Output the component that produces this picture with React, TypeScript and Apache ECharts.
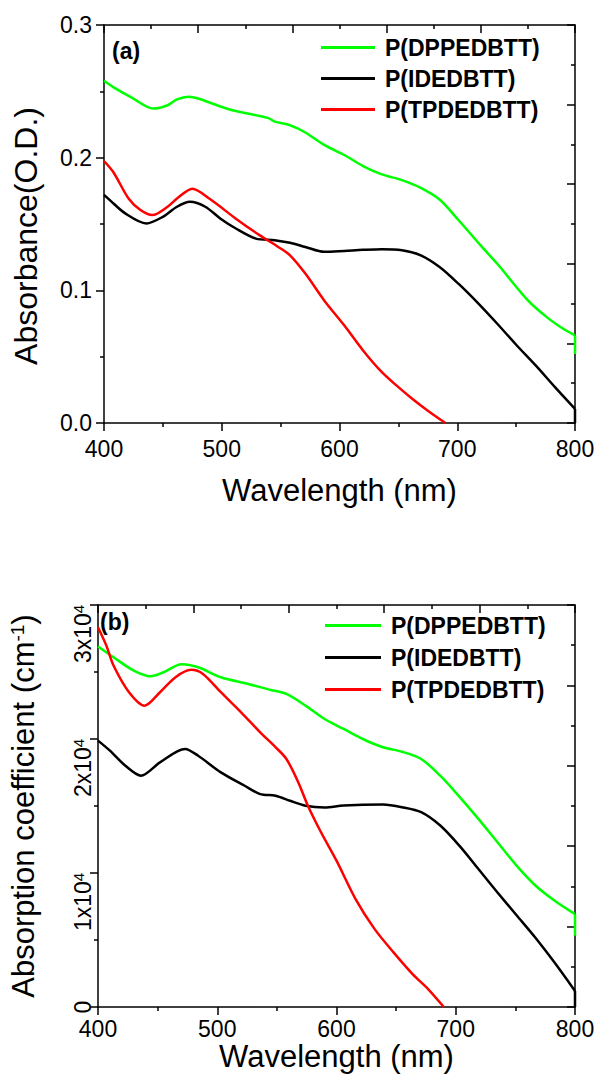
import React, { useEffect, useRef } from 'react';
import * as echarts from 'echarts';

const FONT = 'Arial, "Liberation Sans", Helvetica, sans-serif';

const seriesNames = ['P(DPPEDBTT)', 'P(IDEDBTT)', 'P(TPDEDBTT)'];
const seriesColors = ['#00ff00', '#000000', '#ff0000'];

// ---- Panel (a): absorbance (O.D.) ----
const absDppX = [400, 410, 424, 442, 454, 462, 472, 480, 506, 539, 545, 558, 571, 587, 604, 620, 636, 653, 669, 685, 701, 721, 734, 760, 776, 790, 800];
const absDppY = [0.258, 0.252, 0.245, 0.237, 0.2395, 0.244, 0.246, 0.2446, 0.2365, 0.23, 0.2272, 0.2244, 0.219, 0.2096, 0.202, 0.1937, 0.1874, 0.1831, 0.1773, 0.1685, 0.153, 0.1327, 0.12, 0.0924, 0.0798, 0.071, 0.066];

const absIdX = [400, 405, 418, 436, 450, 462, 473, 486, 499, 512, 529, 545, 558, 571, 587, 604, 620, 636, 653, 669, 685, 701, 718, 734, 750, 767, 783, 800];
const absIdY = [0.172, 0.168, 0.158, 0.1504, 0.1554, 0.163, 0.1667, 0.163, 0.154, 0.1466, 0.139, 0.1378, 0.1358, 0.1327, 0.129, 0.1297, 0.1305, 0.131, 0.1302, 0.1264, 0.1176, 0.105, 0.09, 0.0748, 0.059, 0.043, 0.027, 0.0106];

const absTpX = [400, 408, 421, 431, 441, 454, 463, 475, 490, 512, 532, 548, 558, 571, 587, 604, 620, 636, 650, 662, 675, 690];
const absTpY = [0.1975, 0.189, 0.169, 0.1605, 0.1567, 0.163, 0.17, 0.1766, 0.1688, 0.154, 0.1416, 0.1327, 0.1264, 0.1126, 0.0924, 0.0736, 0.0547, 0.0383, 0.027, 0.0181, 0.0093, 0.0];

// vertical drops at the 800 nm end of the traces
const dropX = [800, 800];
const absDppDrop = [0.066, 0.052];
const absIdDrop = [0.0106, 0.0];

// ---- Panel (b): absorption coefficient (cm^-1) ----
const coefDppX = [400, 413, 430, 444, 455, 470, 484, 503, 526, 545, 558, 574, 590, 606, 622, 639, 655, 671, 687, 703, 719, 735, 751, 767, 783, 800];
const coefDppY = [26900, 26100, 25100, 24680, 24980, 25580, 25350, 24610, 24110, 23660, 23360, 22490, 21490, 20750, 20000, 19380, 19050, 18510, 17260, 15700, 14040, 12290, 10550, 9050, 7930, 6930];

const coefIdX = [400, 410, 423, 436, 452, 473, 484, 503, 523, 536, 549, 561, 574, 590, 606, 639, 655, 671, 687, 703, 719, 735, 751, 767, 783, 800];
const coefIdY = [19880, 19130, 18000, 17260, 18260, 19250, 18750, 17510, 16510, 15890, 15770, 15390, 15020, 14890, 15040, 15110, 14910, 14540, 13540, 12040, 10300, 8550, 6850, 5150, 3300, 1200];

const coefTpX = [400, 407, 413, 426, 439, 452, 465, 478, 488, 503, 520, 536, 549, 558, 568, 576, 587, 600, 616, 632, 648, 664, 677, 690];
const coefTpY = [28340, 26970, 25480, 23490, 22490, 23490, 24610, 25160, 24860, 23490, 21990, 20500, 19380, 18510, 16760, 15020, 13040, 10920, 8050, 5810, 4060, 2440, 1320, 0];

const coefDppDrop = [6930, 5310];
const coefIdDrop = [1200, 0];

// tick label values
const absTicks = { min: 0, max: 0.3, interval: 0.1 };
const coefTicks = { min: 0, max: 30000, interval: 10000 };

const zip = (xs: number[], ys: number[]) => xs.map((x, i) => [x, ys[i]]);

const black = '#000';
const lineSt = { color: black, width: 1.5 };
const TICK_FS = 23;
const TITLE_FS = 31;

function bottomX(gridIndex: number, margin: number, nameGap: number) {
  return {
    type: 'value', gridIndex, position: 'bottom', min: 400, max: 800, interval: 100,
    axisLine: { show: true, onZero: false, lineStyle: lineSt },
    axisTick: { show: true, inside: false, length: 8, lineStyle: lineSt },
    minorTick: { show: true, splitNumber: 2, length: 4, lineStyle: lineSt },
    splitLine: { show: false },
    axisLabel: { fontSize: TICK_FS, color: black, fontFamily: FONT, margin },
    name: 'Wavelength (nm)', nameLocation: 'middle', nameGap,
    nameTextStyle: { fontSize: TITLE_FS, color: black, fontFamily: FONT },
  };
}

function topX(gridIndex: number) {
  return {
    type: 'value', gridIndex, position: 'top', min: 400, max: 800, interval: 80,
    axisLine: { show: true, onZero: false, lineStyle: lineSt },
    axisTick: { show: true, inside: true, length: 8, lineStyle: lineSt },
    minorTick: { show: true, splitNumber: 2, length: 4, lineStyle: lineSt },
    splitLine: { show: false },
    axisLabel: { show: false },
  };
}

function rightY(gridIndex: number, max: number, interval: number) {
  return {
    type: 'value', gridIndex, position: 'right', min: 0, max, interval,
    axisLine: { show: true, onZero: false, lineStyle: lineSt },
    axisTick: { show: true, inside: true, length: 8, lineStyle: lineSt },
    minorTick: { show: true, splitNumber: 2, length: 4, lineStyle: lineSt },
    splitLine: { show: false },
    axisLabel: { show: false },
  };
}

function lineSeries(name: string | undefined, color: string, data: number[][], xi: number, yi: number, smooth: number | false = 0.3) {
  return {
    type: 'line', name, xAxisIndex: xi, yAxisIndex: yi, data,
    smooth, symbol: 'none', showSymbol: false,
    lineStyle: { color, width: 2.5 }, itemStyle: { color },
  };
}

function legendAt(left: number, top: number, itemWidth: number, itemGap: number) {
  return {
    data: seriesNames, orient: 'vertical', left, top, itemWidth, itemHeight: 3,
    icon: 'rect', itemGap, padding: 0, selectedMode: false,
    textStyle: { fontSize: 23, fontWeight: 'bold', color: black, fontFamily: FONT, padding: [0, 0, 0, 5] },
  };
}

export default function App() {
  const ref = useRef<HTMLDivElement>(null);
  useEffect(() => {
    document.body.style.margin = '0';
    if (!ref.current) return;
    const chart = echarts.init(ref.current, null, { renderer: 'svg' });
    const option = {
      animation: false,
      backgroundColor: '#fff',
      textStyle: { fontFamily: FONT },
      grid: [
        { left: 104, top: 25, width: 471, height: 398 },
        { left: 97, top: 605, width: 478, height: 402 },
      ],
      xAxis: [bottomX(0, 14, 52), topX(0), bottomX(1, 10, 32), topX(1)],
      yAxis: [
        {
          type: 'value', gridIndex: 0, position: 'left', ...absTicks,
          axisLine: { show: true, onZero: false, lineStyle: lineSt },
          axisTick: { show: true, inside: false, length: 8, lineStyle: lineSt },
          minorTick: { show: true, splitNumber: 2, length: 4, lineStyle: lineSt },
          splitLine: { show: false },
          axisLabel: { fontSize: TICK_FS, color: black, fontFamily: FONT, margin: 12, formatter: (v: number) => v.toFixed(1) },
          name: '{t|Absorbance(O.D.)}{g| }', nameLocation: 'middle', nameGap: 62,
          nameTextStyle: {
            color: black, fontFamily: FONT,
            rich: {
              t: { fontSize: TITLE_FS + 1, color: black, fontFamily: FONT },
              g: { fontSize: TITLE_FS, width: 24 },
            },
          },
        },
        rightY(0, 0.3, 0.06),
        {
          type: 'value', gridIndex: 1, position: 'left', ...coefTicks,
          axisLine: { show: true, onZero: false, lineStyle: lineSt },
          axisTick: { show: true, inside: false, length: 8, lineStyle: lineSt },
          minorTick: { show: true, splitNumber: 2, length: 4, lineStyle: lineSt },
          splitLine: { show: false },
          axisLabel: {
            rotate: 90, margin: 4, color: black, fontFamily: FONT,
            formatter: (v: number) => (v === 0 ? '{z|0}' : `{m|${v / 10000}x10}{s|4}{g| }`),
            rich: {
              z: { fontSize: TICK_FS, color: black, fontFamily: FONT },
              m: { fontSize: TICK_FS, color: black, fontFamily: FONT },
              s: { fontSize: 15, color: black, fontFamily: FONT, verticalAlign: 'top' },
              g: { fontSize: TICK_FS, width: 58 },
            },
          },
          name: '{t|Absorption coefficient (cm}{s|-1}{t|)}', nameLocation: 'middle', nameGap: 59,
          nameTextStyle: {
            color: black, fontFamily: FONT,
            rich: {
              t: { fontSize: TITLE_FS, color: black, fontFamily: FONT },
              s: { fontSize: 19, color: black, fontFamily: FONT, verticalAlign: 'top' },
            },
          },
        },
        rightY(1, 30000, 6000),
      ],
      legend: [legendAt(321, 36, 54, 8), legendAt(325, 614, 56, 9)],
      graphic: [
        { type: 'text', left: 112, top: 39, style: { text: '(a)', font: `bold 23px ${FONT}`, fill: black } },
        { type: 'text', left: 100, top: 610, style: { text: '(b)', font: `bold 23px ${FONT}`, fill: black } },
      ],
      series: [
        lineSeries(seriesNames[0], seriesColors[0], zip(absDppX, absDppY), 0, 0),
        lineSeries(undefined, seriesColors[0], zip(dropX, absDppDrop), 0, 0, false),
        lineSeries(seriesNames[1], seriesColors[1], zip(absIdX, absIdY), 0, 0),
        lineSeries(undefined, seriesColors[1], zip(dropX, absIdDrop), 0, 0, false),
        lineSeries(seriesNames[2], seriesColors[2], zip(absTpX, absTpY), 0, 0),
        lineSeries(seriesNames[0], seriesColors[0], zip(coefDppX, coefDppY), 2, 2),
        lineSeries(undefined, seriesColors[0], zip(dropX, coefDppDrop), 2, 2, false),
        lineSeries(seriesNames[1], seriesColors[1], zip(coefIdX, coefIdY), 2, 2),
        lineSeries(undefined, seriesColors[1], zip(dropX, coefIdDrop), 2, 2, false),
        lineSeries(seriesNames[2], seriesColors[2], zip(coefTpX, coefTpY), 2, 2),
      ],
    };
    chart.setOption(option as any);
    return () => chart.dispose();
  }, []);
  return <div ref={ref} style={{ width: 600, height: 1080 }} />;
}
